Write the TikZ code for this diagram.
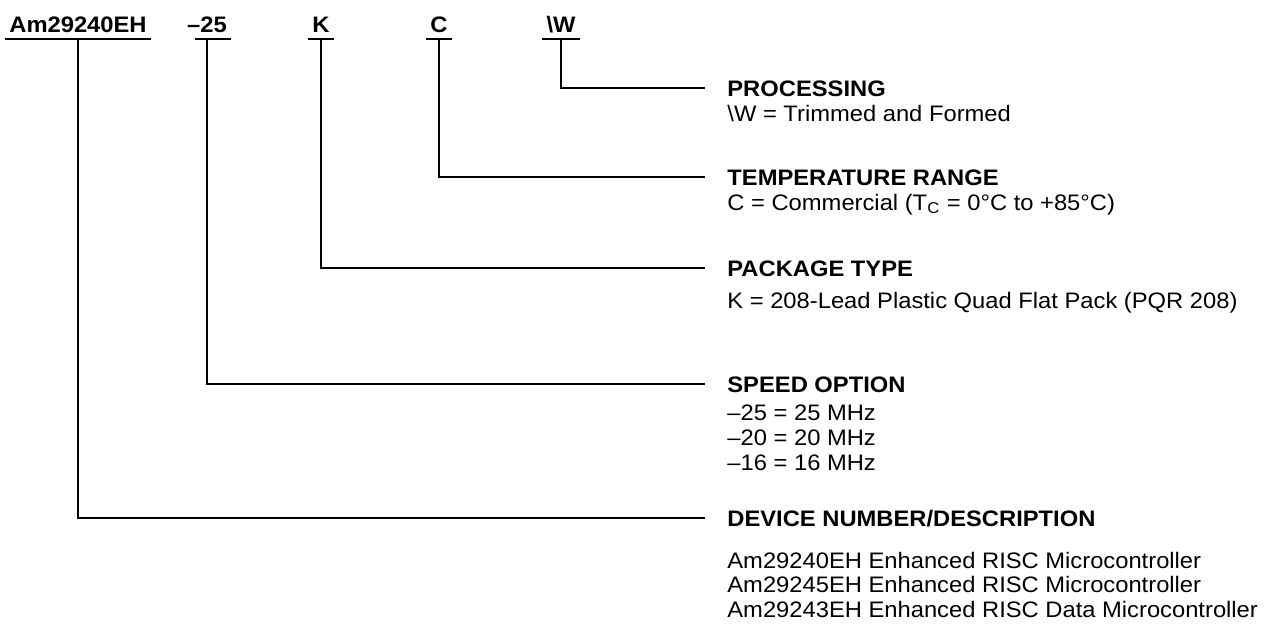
\documentclass[tikz,border=0pt]{standalone}
\usepackage{fontspec}
\setmainfont{Liberation Sans}[FakeStretch=1.06]
\usetikzlibrary{positioning}

\begin{document}
\begin{tikzpicture}[x=0.5pt,y=-0.5pt]
  \fontsize{11.2}{12.25}\selectfont
  \useasboundingbox (0,0) rectangle (1274,623);
  \tikzstyle{every node}=[inner sep=0pt]
  \tikzstyle{code}=[font=\bfseries,anchor=base,text depth=0pt,inner xsep=2pt,inner ysep=3.5pt]
  \tikzstyle{hdr}=[font=\bfseries,anchor=west,text height=8pt,text depth=0pt]
  \tikzstyle{body}=[anchor=base west]
  \tikzstyle{wire}=[line width=1pt,shorten >=11pt]

%% ordering code
  \node[code] (dev)   at (78 ,32) {Am29240EH};
  \node[code] (speed) at (207,32) {–25};
  \node[code] (pkg)   at (321,32) {K};
  \node[code] (temp)  at (439,32) {C};
  \node[code] (proc)  at (561,32) {\textbackslash W};
  \foreach \c/\ofs in {dev/0pt,speed/6pt,pkg/0pt,temp/0pt,proc/0pt}
    \draw[line width=1pt] ([xshift=\ofs] \c.south west) -- (\c.south east);

%% headings
  \node[hdr] (proc-hdr)  at (727,88)  {PROCESSING};
  \node[hdr] (temp-hdr)  at (727,177) {TEMPERATURE RANGE};
  \node[hdr] (pkg-hdr)   at (727,268) {PACKAGE TYPE};
  \node[hdr] (speed-hdr) at (727,384) {SPEED OPTION};
  \node[hdr] (dev-hdr)   at (727,518) {DEVICE NUMBER/DESCRIPTION};

%% descriptions
  \node[body] (proc-txt) at (727,121) {\textbackslash W = Trimmed and Formed};
  \node[body] (temp-txt) at (727,210) {C = Commercial (T\textsubscript{C} = 0°C to +85°C)};
  \node[body] (pkg-txt)  at (727,308) {K = 208-Lead Plastic Quad Flat Pack (PQR 208)};
  \foreach \n/\txt in {0/–25 = 25 MHz, 1/–20 = 20 MHz, 2/–16 = 16 MHz}
    \node[body] (speed-txt\n) at (727,420+25*\n) {\txt};
  \foreach \n/\txt in {0/Am29240EH Enhanced RISC Microcontroller,
                       1/Am29245EH Enhanced RISC Microcontroller,
                       2/Am29243EH Enhanced RISC Data Microcontroller}
    \node[body] (dev-txt\n) at (727,568+24.5*\n) {\txt};

%% connections
  \foreach \c in {dev,speed,pkg,temp,proc}
    \draw[wire] (\c.south) |- (\c-hdr.west);
\end{tikzpicture}
\end{document}
